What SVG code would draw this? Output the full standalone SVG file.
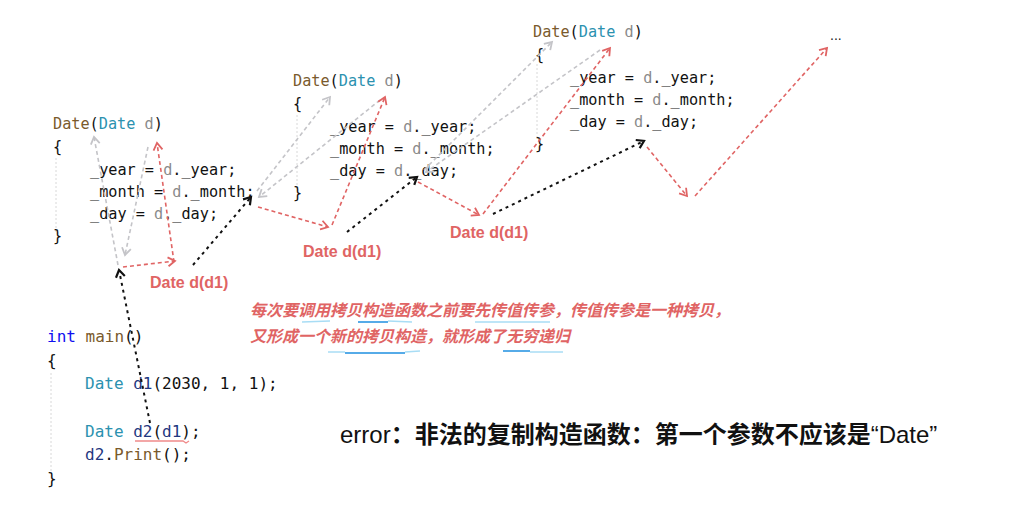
<svg xmlns="http://www.w3.org/2000/svg" width="1024" height="526" viewBox="0 0 1024 526" xml:space="preserve">
<defs>
<style>
.code{font-family:"DejaVu Sans Mono","Liberation Mono",monospace;font-size:15.2px;fill:#111}
.main{font-size:16px}
.fn{fill:#7A5A2C}
.ty{fill:#2B91AF}
.pm{fill:#8A8A8A}
.kw{fill:#1010F0}
.lv{fill:#1F377F}
.guide{stroke:#D8D8D8;stroke-width:1;stroke-dasharray:2 2;fill:none}
.g{stroke:#C4C4C8;stroke-width:1.6;stroke-dasharray:4 3;fill:none}
.r{stroke:#E06464;stroke-width:1.6;stroke-dasharray:4 3;fill:none}
.b{stroke:#111;stroke-width:2;stroke-dasharray:3 4;fill:none}
.lbl{font-family:"Liberation Sans",Arial,sans-serif;font-weight:bold;font-size:16px;fill:#E06464}
.note{font-family:"Noto Sans CJK SC",sans-serif;font-weight:bold;font-style:italic;font-size:16px;fill:#E06464}
.ul1{stroke:#A8DDF5;stroke-width:1.5;fill:none}
.ul2{stroke:#1E8FE0;stroke-width:1.5;fill:none}
</style>
<marker id="ag" markerUnits="userSpaceOnUse" markerWidth="12" markerHeight="12" refX="9" refY="6" orient="auto"><path d="M2,1.5 L9,6 L2,10.5" fill="none" stroke="#C4C4C8" stroke-width="1.8"/></marker>
<marker id="ar" markerUnits="userSpaceOnUse" markerWidth="12" markerHeight="12" refX="9" refY="6" orient="auto"><path d="M2,1.5 L9,6 L2,10.5" fill="none" stroke="#E06464" stroke-width="1.8"/></marker>
<marker id="ab" markerUnits="userSpaceOnUse" markerWidth="12" markerHeight="12" refX="9" refY="6" orient="auto"><path d="M2,1.5 L9,6 L2,10.5" fill="none" stroke="#111" stroke-width="2.2"/></marker>
</defs>
<rect width="1024" height="526" fill="#FFFFFF"/>

<g id="ctor1" transform="translate(53,129)">
<line class="guide" x1="3" y1="29" x2="3" y2="103"/>
<text class="code" x="0" y="0"><tspan class="fn">Date</tspan>(<tspan class="ty">Date</tspan> <tspan class="pm">d</tspan>)</text>
<text class="code" x="0" y="23">{</text>
<text class="code" x="37" y="46">_year = <tspan class="pm">d</tspan>._year;</text>
<text class="code" x="37" y="68">_month = <tspan class="pm">d</tspan>._month;</text>
<text class="code" x="37" y="90">_day = <tspan class="pm">d</tspan>._day;</text>
<text class="code" x="0" y="112">}</text>
</g>

<g id="ctor2" transform="translate(293,86)">
<line class="guide" x1="4" y1="29" x2="4" y2="103"/>
<text class="code" x="0" y="0"><tspan class="fn">Date</tspan>(<tspan class="ty">Date</tspan> <tspan class="pm">d</tspan>)</text>
<text class="code" x="0" y="23">{</text>
<text class="code" x="37" y="46">_year = <tspan class="pm">d</tspan>._year;</text>
<text class="code" x="37" y="68">_month = <tspan class="pm">d</tspan>._month;</text>
<text class="code" x="37" y="90">_day = <tspan class="pm">d</tspan>._day;</text>
<text class="code" x="0" y="112">}</text>
</g>

<g id="ctor3" transform="translate(533,37)">
<line class="guide" x1="4" y1="27" x2="4" y2="100"/>
<text class="code" x="0" y="0"><tspan class="fn">Date</tspan>(<tspan class="ty">Date</tspan> <tspan class="pm">d</tspan>)</text>
<text class="code" x="2" y="23">{</text>
<text class="code" x="37" y="46">_year = <tspan class="pm">d</tspan>._year;</text>
<text class="code" x="37" y="68">_month = <tspan class="pm">d</tspan>._month;</text>
<text class="code" x="37" y="90">_day = <tspan class="pm">d</tspan>._day;</text>
<text class="code" x="2" y="112">}</text>
</g>

<g id="mainfn">
<line class="guide" x1="51" y1="373" x2="51" y2="473"/>
<text class="code main" x="47" y="342"><tspan class="kw">int</tspan> <tspan class="fn">main</tspan>()</text>
<text class="code main" x="47" y="366">{</text>
<text class="code main" x="85" y="389"><tspan class="ty">Date</tspan> <tspan class="lv">d1</tspan>(2030, 1, 1);</text>
<text class="code main" x="85" y="437"><tspan class="ty">Date</tspan> <tspan class="lv">d2</tspan>(<tspan class="lv">d1</tspan>);</text>
<text class="code main" x="85" y="460"><tspan class="lv">d2</tspan>.<tspan class="fn">Print</tspan>();</text>
<text class="code main" x="47" y="484">}</text>
<path d="M135,441 L183,441 L186,443 L189,441" stroke="#F08A8A" stroke-width="1.3" fill="none"/>
</g>

<g id="labels">
<text class="lbl" x="150" y="288">Date d(d1)</text>
<text class="lbl" x="303" y="257">Date d(d1)</text>
<text class="lbl" x="450" y="238">Date d(d1)</text>
<text x="830" y="40" font-family="Liberation Sans,Arial,sans-serif" font-size="14" fill="#222">...</text>
</g>

<g id="note">
<text class="note" x="250" y="316">每次要调用拷贝构造函数之前要先传值传参，传值传参是一种拷贝，</text>
<text class="note" x="250" y="342">又形成一个新的拷贝构造，就形成了无穷递归</text>
<path class="ul1" d="M302,322 L330,321"/>
<path class="ul2" d="M358,322 L388,322"/>
<path class="ul1" d="M388,321 L412,322"/>
<path class="ul1" d="M475,322 L550,322"/>
<path class="ul1" d="M328,352 L345,352"/>
<path class="ul2" d="M345,353 L405,353"/>
<path class="ul1" d="M405,352 L420,351"/>
<path class="ul2" d="M503,351 L530,351"/>
<path class="ul1" d="M530,352 L563,352"/>
</g>

<g id="error">
<text x="340" y="443" font-family="Liberation Sans,Noto Sans CJK SC,sans-serif" font-size="24" fill="#111">error<tspan font-family="Noto Sans CJK SC,sans-serif" font-weight="bold">：非法的复制构造函数：第一个参数不应该是</tspan>“Date”</text>
</g>

<g id="connectors">
<path class="g" d="M118,265 L94,137" marker-end="url(#ag)"/>
<path class="g" d="M148,147 L125,255" marker-end="url(#ag)"/>
<path class="g" d="M257,191 L330,97" marker-end="url(#ag)"/>
<path class="g" d="M380,100 L259,197" marker-end="url(#ag)"/>
<path class="g" d="M424,170 L552,42" marker-end="url(#ag)"/>
<path class="g" d="M600,50 L426,172" marker-end="url(#ag)"/>

<path class="r" d="M123,267 L175,261" marker-end="url(#ar)"/>
<path class="r" d="M174,262 L157,143" marker-end="url(#ar)"/>
<path class="r" d="M258,207 L328,227" marker-end="url(#ar)"/>
<path class="r" d="M332,225 L385,97" marker-end="url(#ar)"/>
<path class="r" d="M418,182 L479,215" marker-end="url(#ar)"/>
<path class="r" d="M483,214 L610,48" marker-end="url(#ar)"/>
<path class="r" d="M647,147 L687,196" marker-end="url(#ar)"/>
<path class="r" d="M695,196 L827,48" marker-end="url(#ar)"/>

<path class="b" d="M150,423 L119,270" marker-end="url(#ab)"/>
<path class="b" d="M193,265 L251,197" marker-end="url(#ab)"/>
<path class="b" d="M347,232 L417,177" marker-end="url(#ab)"/>
<path class="b" d="M493,214 L644,141" marker-end="url(#ab)"/>
</g>
</svg>
